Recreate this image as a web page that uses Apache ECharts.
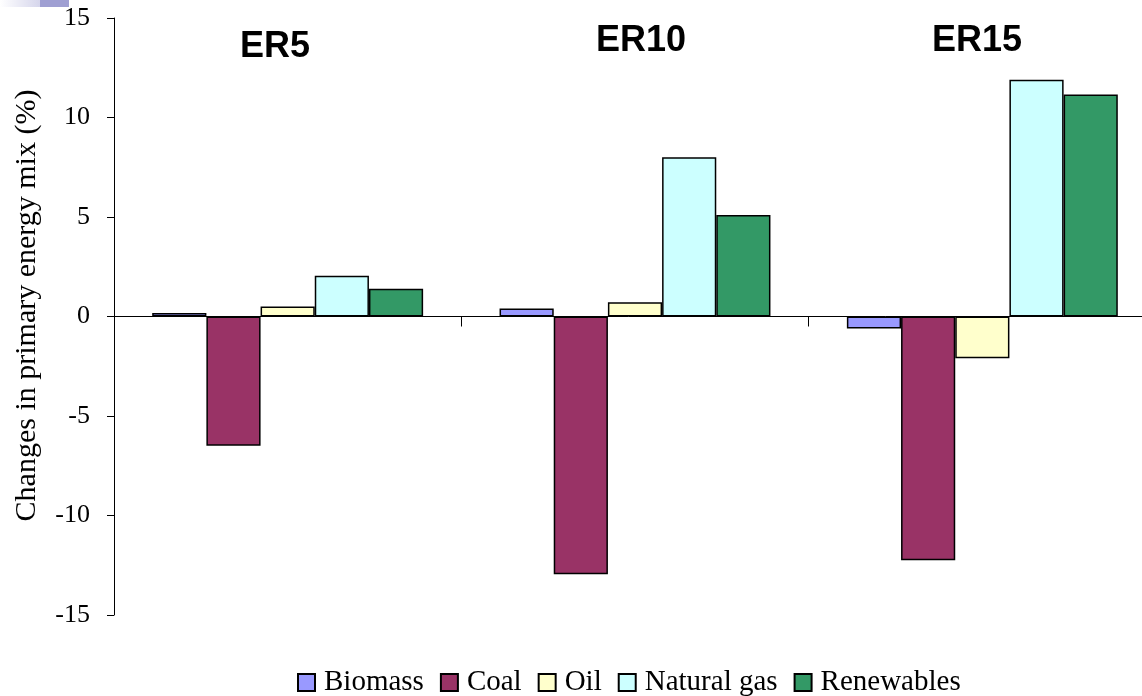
<!DOCTYPE html>
<html>
<head>
<meta charset="utf-8">
<script src="https://cdn.jsdelivr.net/npm/echarts@6/dist/echarts.min.js"></script>
<style>
  html, body { margin: 0; padding: 0; background: #fff; }
  #chart { width: 1142px; height: 696px; }
</style>
</head>
<body>
<div id="chart"></div>
<script>
// Scenarios (emission reduction targets)
const scenarios = ['ER5', 'ER10', 'ER15'];

// Change in share of each source in the primary energy mix (%)
const biomass    = [0.17, 0.4, -0.6];
const coal       = [-6.5, -12.95, -12.25];
const oil        = [0.5, 0.72, -2.1];
const naturalGas = [2.05, 8.0, 11.9];
const renewables = [1.4, 5.1, 11.15];

const seriesNames = ['Biomass', 'Coal', 'Oil', 'Natural gas', 'Renewables'];
const seriesData = [biomass, coal, oil, naturalGas, renewables];
const seriesColors = ['#9999FF', '#993366', '#FFFFCC', '#CCFFFF', '#339966'];

// Scenario headings placed above each group
const headingPos = [[275, 47], [641, 41], [977, 41]];

const chart = echarts.init(document.getElementById('chart'));

const serif = '"Liberation Serif", "Times New Roman", serif';

chart.setOption({
  backgroundColor: '#ffffff',
  animation: false,
  grid: {
    left: 114, right: -14, top: 18, bottom: 81,
    containLabel: false,
    outerBoundsMode: 'none'
  },
  legend: {
    data: seriesNames,
    left: 297,
    top: 668,
    padding: 0,
    icon: 'rect',
    itemWidth: 17,
    itemHeight: 17,
    itemGap: 16,
    textStyle: {
      fontFamily: serif,
      fontSize: 29,
      color: '#000',
      padding: [0, 0, 0, 4]
    }
  },
  xAxis: {
    type: 'category',
    data: scenarios,
    axisLine: { onZero: true, lineStyle: { color: '#000', width: 1 } },
    axisTick: { show: true, length: 10, lineStyle: { color: '#000' } },
    axisLabel: { show: false },
    splitLine: { show: false }
  },
  yAxis: {
    type: 'value',
    min: -15,
    max: 15,
    interval: 5,
    name: 'Changes in primary energy mix (%)',
    nameLocation: 'middle',
    nameRotate: 90,
    nameGap: 72,
    nameTextStyle: {
      fontFamily: serif, fontSize: 30, color: '#000',
      padding: [0, 0, 0, 22]
    },
    axisLine: { show: true, lineStyle: { color: '#000', width: 1 } },
    axisTick: { show: true, length: 7, lineStyle: { color: '#000' } },
    axisLabel: { fontFamily: serif, fontSize: 26, color: '#000', margin: 24 },
    splitLine: { show: false }
  },
  series: seriesNames.map((name, i) => ({
    name: name,
    type: 'bar',
    data: seriesData[i],
    barGap: '0%',
    barCategoryGap: '22%',
    itemStyle: {
      color: seriesColors[i],
      borderColor: '#000',
      borderWidth: 1.5
    }
  })),
  graphic: [
    // small banner strip in the top-left corner
    {
      type: 'rect',
      shape: { x: 0, y: 0, width: 40, height: 7 },
      style: {
        fill: new echarts.graphic.LinearGradient(0, 0, 1, 0, [
          { offset: 0, color: '#ffffff' },
          { offset: 1, color: '#d6d6ec' }
        ])
      }
    },
    {
      type: 'rect',
      shape: { x: 40, y: 0, width: 29, height: 7 },
      style: { fill: '#9f9fd2' }
    }
  ].concat(scenarios.map((s, i) => ({
    type: 'text',
    x: headingPos[i][0],
    y: headingPos[i][1],
    style: {
      text: s,
      fontFamily: '"Liberation Sans", Arial, sans-serif',
      fontWeight: 'bold',
      fontSize: 36,
      fill: '#000',
      align: 'center',
      verticalAlign: 'middle'
    }
  })))
});
</script>
</body>
</html>
